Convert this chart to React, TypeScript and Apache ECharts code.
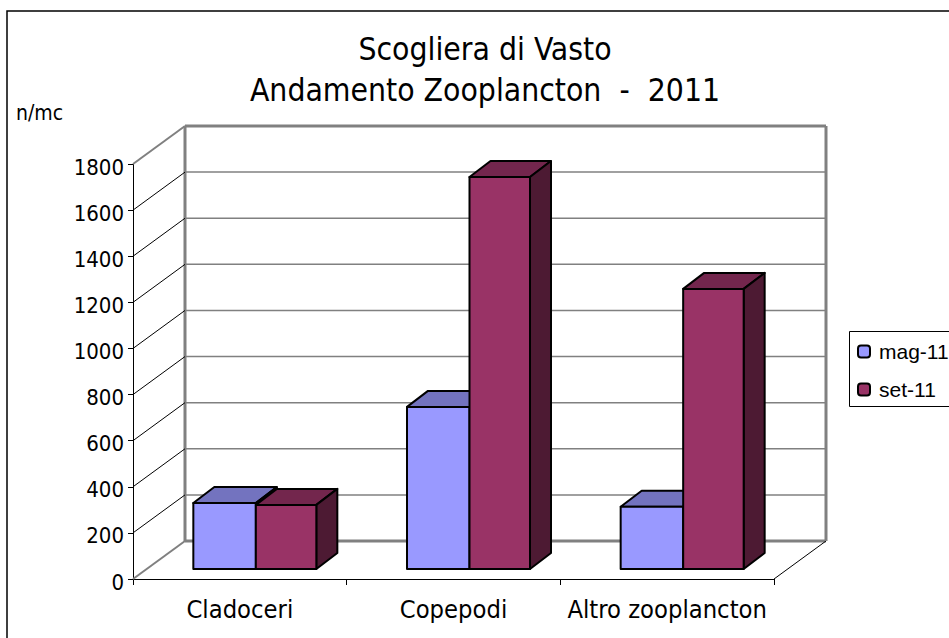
import React, { useEffect, useRef } from "react";
import * as echarts from "echarts";

const categories = ["Cladoceri", "Copepodi", "Altro zooplancton"];
const seriesNames = ["mag-11", "set-11"];
const magValues = [286, 703, 270];
const setValues = [278, 1700, 1215];
const wallTicks = [0, 200, 400, 600, 800, 1000, 1200, 1400, 1600, 1800];

const FONT = "'DejaVu Sans Condensed', 'Noto Sans', sans-serif";
const WALL_DX = 52;
const WALL_DY = -38;
const BAR_DX = 21;
const BAR_DY = -16;
const FRONT_DX = 16;
const FRONT_DY = -10;

function wallItem(params: any, api: any) {
  const v = api.value(0);
  const cs = params.coordSys;
  const y = api.coord([0, v])[1];
  const x0 = cs.x;
  const x1 = cs.x + cs.width;
  const bx0 = x0 + WALL_DX;
  const bx1 = x1 + WALL_DX;
  const by = y + WALL_DY;
  const gray = "#808080";
  const edge = v === 0 || v === 1800;
  const children: any[] = [
    {
      type: "line",
      shape: { x1: x0, y1: y, x2: bx0, y2: by },
      style: { stroke: edge ? gray : "#000", lineWidth: edge ? 2 : 1 },
    },
    {
      type: "line",
      shape: { x1: bx0, y1: by, x2: bx1, y2: by },
      style: { stroke: gray, lineWidth: edge ? 3 : 1.5 },
    },
  ];
  if (v === 0) {
    children.push({
      type: "line",
      shape: { x1, y1: y, x2: bx1, y2: by },
      style: { stroke: "#000", lineWidth: 1 },
    });
    const topBy = cs.y + WALL_DY;
    children.push(
      {
        type: "line",
        shape: { x1: bx0, y1: by, x2: bx0, y2: topBy },
        style: { stroke: gray, lineWidth: 3 },
      },
      {
        type: "line",
        shape: { x1: bx1, y1: by, x2: bx1, y2: topBy },
        style: { stroke: gray, lineWidth: 3 },
      }
    );
  }
  return { type: "group", children };
}

function barRenderer(side: number, barW: number, front: string, top: string, right: string) {
  return (_params: any, api: any) => {
    const idx = api.value(0);
    const val = api.value(1);
    const c = api.coord([idx, val]);
    const base = api.coord([idx, 0]);
    const anchor = c[0] + FRONT_DX;
    const xl = side === 0 ? anchor - barW : anchor;
    const xr = side === 0 ? anchor : anchor + barW;
    const yt = c[1] + FRONT_DY;
    const yb = base[1] + FRONT_DY;
    const stroke = { stroke: "#000", lineWidth: 2, lineJoin: "round" };
    return {
      type: "group",
      children: [
        {
          type: "polygon",
          shape: {
            points: [
              [xl, yt],
              [xr, yt],
              [xr + BAR_DX, yt + BAR_DY],
              [xl + BAR_DX, yt + BAR_DY],
            ],
          },
          style: { fill: top, ...stroke },
        },
        {
          type: "polygon",
          shape: {
            points: [
              [xr, yt],
              [xr + BAR_DX, yt + BAR_DY],
              [xr + BAR_DX, yb + BAR_DY],
              [xr, yb],
            ],
          },
          style: { fill: right, ...stroke },
        },
        {
          type: "rect",
          shape: { x: xl, y: yt, width: xr - xl, height: yb - yt },
          style: { fill: front, ...stroke },
        },
      ],
    };
  };
}

export default function App() {
  const ref = useRef<HTMLDivElement>(null);
  useEffect(() => {
    document.body.style.margin = "0";
    const chart = echarts.init(ref.current!, null, { renderer: "svg" });
    chart.setOption({
      animation: false,
      backgroundColor: "#fff",
      title: {
        text: "Scogliera di Vasto\nAndamento Zooplancton  -  2011",
        left: 480,
        top: 23,
        textAlign: "center",
        textStyle: {
          fontFamily: FONT,
          fontSize: 31.6,
          lineHeight: 41,
          fontWeight: "normal",
          color: "#000",
        },
      },
      grid: { left: 133, top: 164, width: 641, height: 415 },
      xAxis: {
        type: "category",
        data: categories,
        axisLine: { show: true, lineStyle: { color: "#000", width: 1 } },
        axisTick: { show: true, length: 6, lineStyle: { color: "#000" } },
        axisLabel: { fontFamily: FONT, fontSize: 25.3, color: "#000", margin: 18, interval: 0 },
        splitLine: { show: false },
      },
      yAxis: {
        type: "value",
        min: 0,
        max: 1800,
        interval: 200,
        axisLine: { show: true, lineStyle: { color: "#000", width: 1 } },
        axisTick: { show: true, length: 5, lineStyle: { color: "#000" } },
        axisLabel: {
          fontFamily: FONT,
          fontSize: 22,
          lineHeight: 22,
          color: "#000",
          margin: 9,
          verticalAlign: "top",
          padding: [-8, 0, 0, 0],
          formatter: (v: number) => String(v),
        },
        splitLine: { show: false },
      },
      legend: {
        orient: "vertical",
        left: 857,
        top: 341,
        padding: 0,
        itemWidth: 12,
        itemHeight: 12,
        itemGap: 17,
        data: seriesNames,
        textStyle: {
          fontFamily: "'Liberation Sans', sans-serif",
          fontSize: 21,
          color: "#000",
          padding: [0, 0, 0, 4],
        },
      },
      graphic: [
        {
          type: "rect",
          z: -1,
          shape: { x: 7, y: 11, width: 1000, height: 700 },
          style: { fill: "none", stroke: "#000", lineWidth: 1.5 },
        },
        {
          type: "rect",
          z: -1,
          shape: { x: 849.5, y: 331.5, width: 150, height: 75 },
          style: { fill: "#fff", stroke: "#000", lineWidth: 1 },
        },
        {
          type: "text",
          x: 16,
          y: 102,
          style: { text: "n/mc", fontFamily: FONT, fontSize: 21, fill: "#000" },
        },
      ],
      series: [
        {
          type: "custom",
          name: "walls",
          silent: true,
          z: 1,
          renderItem: wallItem,
          data: wallTicks.map((v) => [v]),
          encode: { y: 0 },
        },
        {
          type: "custom",
          name: seriesNames[0],
          z: 2,
          itemStyle: { color: "#9999FF", borderColor: "#000", borderWidth: 2 },
          renderItem: barRenderer(0, 62.5, "#9999FF", "#7373BF", "#4D4D80"),
          data: magValues.map((v, i) => [i, v]),
          encode: { x: 0, y: 1 },
        },
        {
          type: "custom",
          name: seriesNames[1],
          z: 3,
          itemStyle: { color: "#993366", borderColor: "#000", borderWidth: 2 },
          renderItem: barRenderer(1, 60.5, "#993366", "#73264D", "#4D1A33"),
          data: setValues.map((v, i) => [i, v]),
          encode: { x: 0, y: 1 },
        },
      ],
    });
    return () => chart.dispose();
  }, []);
  return <div ref={ref} style={{ width: 949, height: 638, position: "absolute", left: 0, top: 0 }} />;
}
